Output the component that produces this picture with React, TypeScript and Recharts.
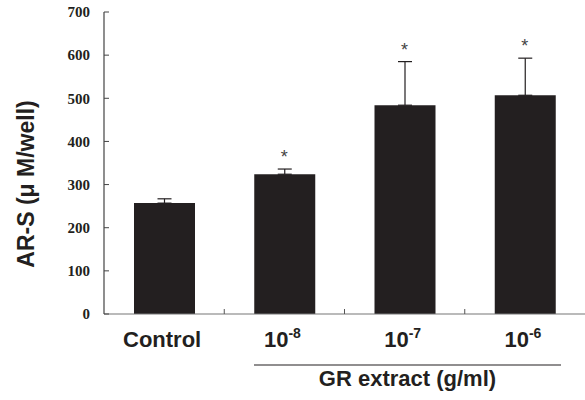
import React from "react";
import { ComposedChart, Bar, XAxis, YAxis, ErrorBar, Scatter } from "recharts";

const categories = ["Control", "10", "10", "10"];
const exponents = ["", "-8", "-7", "-6"];
const values = [257, 324, 484, 507];
const errors = [10, 12, 101, 86];
const significant = [false, true, true, true];
const yTicks = [0, 100, 200, 300, 400, 500, 600, 700];
const yLabel = "AR-S (\u03bc  M/well)";
const groupLabel = "GR extract (g/ml)";

const data = categories.map((c, i) => ({
  name: c + exponents[i],
  value: values[i],
  err: [0, errors[i]],
  sigTop: significant[i] ? values[i] + errors[i] : null,
}));

const SANS = "'Liberation Sans', Arial, sans-serif";
const SERIF = "'Liberation Serif', 'Times New Roman', serif";

const XTick = (props: any) => {
  const { x, y, payload, index } = props;
  const i = payload && typeof payload.index === "number" ? payload.index : index;
  const off = payload && typeof payload.offset === "number" ? payload.offset : 0;
  const exp = exponents[i];
  return (
    <g>
      {i > 0 && (
        <line x1={x - off} x2={x - off} y1={y} y2={y - 5} stroke="#555" strokeWidth={1} />
      )}
      <text x={x - 2} y={y + 33} textAnchor="middle" fontFamily={SANS} fontWeight="bold" fontSize={22} fill="#231f20">
        {categories[i]}
        {exp ? (
          <tspan dy={-9} fontSize={14}>
            {exp}
          </tspan>
        ) : null}
      </text>
    </g>
  );
};

const GroupLabel = (props: any) => {
  const vb = props.viewBox || {};
  const x1 = vb.x + 150;
  const x2 = vb.x + vb.width - 24;
  return (
    <g>
      <line x1={x1} x2={x2} y1={vb.y + 51} y2={vb.y + 51} stroke="#231f20" strokeWidth={1.2} />
      <text x={(x1 + x2) / 2} y={vb.y + 72} textAnchor="middle" fontFamily={SANS} fontWeight="bold" fontSize={22} fill="#231f20">
        {groupLabel}
      </text>
    </g>
  );
};

const YLabel = (props: any) => {
  const vb = props.viewBox || {};
  const cx = vb.x + 26;
  const cy = vb.y + vb.height / 2 + 21;
  return (
    <text
      x={cx}
      y={cy}
      transform={`rotate(-90, ${cx}, ${cy})`}
      textAnchor="middle"
      dominantBaseline="central"
      fontFamily={SANS}
      fontWeight="bold"
      fontSize={23}
      fill="#231f20"
    >
      {yLabel}
    </text>
  );
};

const Star = (props: any) => {
  const { cx, cy } = props;
  if (!Number.isFinite(cx) || !Number.isFinite(cy) || props.payload?.sigTop == null) return <g />;
  return (
    <text x={cx} y={cy - 6} textAnchor="middle" fontFamily={SANS} fontSize={18} fill="#444">
      *
    </text>
  );
};

export default function App() {
  return (
    <div style={{ position: "absolute", left: 0, top: 0, width: 585, height: 400, overflow: "hidden", background: "#fff" }}>
      <ComposedChart width={585} height={400} data={data} margin={{ top: 12, right: 0, bottom: 0, left: 0 }}>
        <XAxis
          dataKey="name"
          height={86}
          interval={0}
          tickLine={false}
          tickSize={0}
          tickMargin={0}
          axisLine={{ stroke: "#777", strokeWidth: 1.2 }}
          tick={<XTick />}
          label={<GroupLabel />}
        />
        <YAxis
          width={104}
          domain={[0, 700]}
          ticks={yTicks}
          interval={0}
          tickSize={-5}
          tickMargin={19}
          axisLine={{ stroke: "#444", strokeWidth: 1.2 }}
          tickLine={{ stroke: "#444" }}
          tick={{ fontFamily: SERIF, fontWeight: "bold", fontSize: 15, fill: "#231f20" }}
          label={<YLabel />}
        />
        <Bar dataKey="value" fill="#231f20" barSize={61} isAnimationActive={false}>
          <ErrorBar dataKey="err" direction="y" width={7} stroke="#231f20" strokeWidth={1.2} />
        </Bar>
        <Scatter dataKey="sigTop" shape={<Star />} isAnimationActive={false} />
      </ComposedChart>
    </div>
  );
}
